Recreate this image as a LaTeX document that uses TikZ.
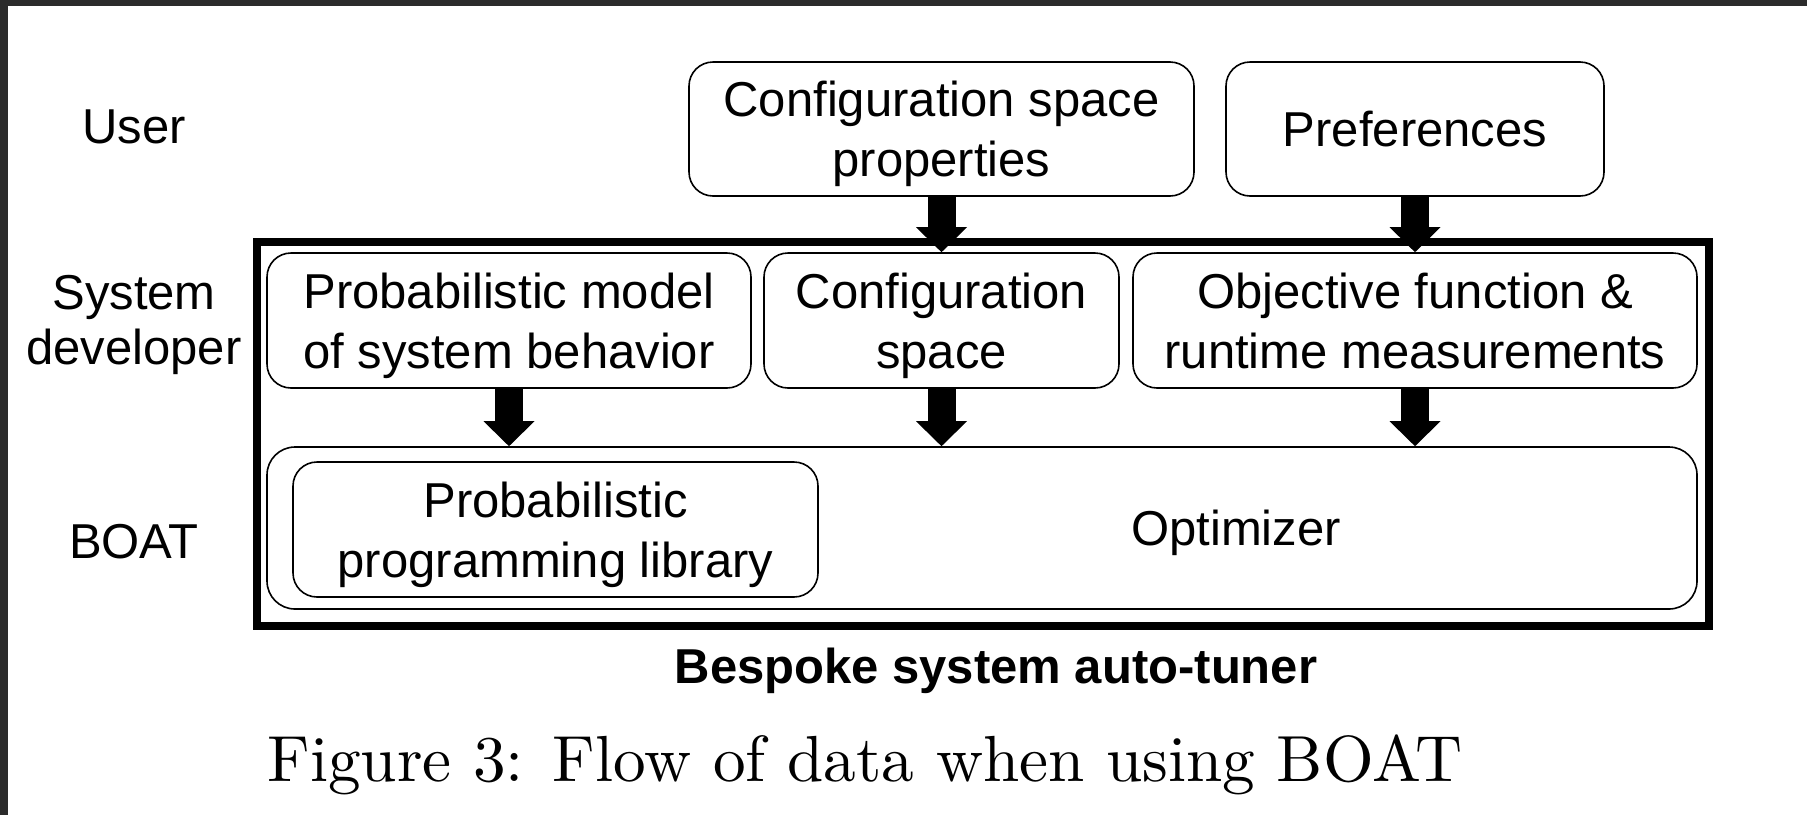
\documentclass[tikz,border=0pt]{standalone}
\usepackage{fontspec}
\setmainfont{Latin Modern Roman}
\newfontfamily\arialf{Liberation Sans}
\newfontfamily\capf[Extension=.otf]{lmroman10-regular}
\usetikzlibrary{arrows.meta}
\newcommand{\lastln}[1]{\raisebox{0pt}[\height][0pt]{#1}}
\tikzset{
  box/.style={draw, line width=0.4pt, rounded corners=6pt, align=center, inner sep=0pt,
    font=\arialf\fontsize{12.25}{15}\selectfont},
  lbl/.style={align=center, inner sep=0pt, font=\arialf\fontsize{12.25}{12.5}\selectfont},
  outerbox/.style={draw, line width=2pt, inner sep=0pt},
  blockarrow/.style={line width=7pt, -{Triangle[width=12.75pt,length=6.25pt,line width=0pt]}},
}
\begin{document}
\begin{tikzpicture}[x=0.25pt,y=-0.25pt]
\useasboundingbox (0,0) rectangle (1807,815);
\fill[white] (0,0) rectangle (1807,815);
\fill[black!83] (0,0) rectangle (1807,6);
\fill[black!83] (0,0) rectangle (8,815);
% row labels
\node[lbl] (user) at (134,127) {User};
\node[lbl] (sysdev) at (134,325) {System\\[1.4pt]developer};
\node[lbl] (boat) at (134,542) {BOAT};
% user boxes
\node[box, minimum width=126.25pt, minimum height=33.5pt] (cfgp) at (941.5,129) {Configuration space\\\lastln{properties}};
\node[box, minimum width=94.5pt, minimum height=33.5pt] (pref) at (1415,129) {Preferences};
% outer box
\node[outerbox, minimum width=363pt, minimum height=96pt] (outer) at (983,434) {};
% developer boxes
\node[box, minimum width=121pt, minimum height=33.75pt] (pm) at (509,320.5) {Probabilistic model\\\lastln{of system behavior}};
\node[box, minimum width=88.75pt, minimum height=33.75pt] (cs) at (941.5,320.5) {Configuration\\\lastln{space}};
\node[box, minimum width=141pt, minimum height=33.75pt] (obj) at (1415,320.5) {Objective function \&\\\lastln{runtime measurements}};
% boat boxes
\node[box, minimum width=357.5pt, minimum height=40.5pt, rounded corners=7pt] (opt) at (982,528) {};
\node[lbl] (optlbl) at (1236,533) {Optimizer};
\node[box, minimum width=131.25pt, minimum height=33.75pt] (ppl) at (555.5,529.5) {Probabilistic\\\lastln{programming library}};
% titles
\node[inner sep=0pt, font=\arialf\bfseries\fontsize{12.25}{15}\selectfont] (title) at (996,671) {Bespoke system auto-tuner};
\node[inner sep=0pt, font=\capf\fontsize{16.3}{19}\selectfont] (caption) at (865,765) {Figure 3: Flow of data when using BOAT};
% arrows
\draw[blockarrow] (cfgp.south) -- (cs.north);
\draw[blockarrow] (pref.south) -- (obj.north);
\draw[blockarrow] (pm.south) -- (pm.south |- opt.north);
\draw[blockarrow] (cs.south) -- (cs.south |- opt.north);
\draw[blockarrow] (obj.south) -- (obj.south |- opt.north);
\end{tikzpicture}
\end{document}
